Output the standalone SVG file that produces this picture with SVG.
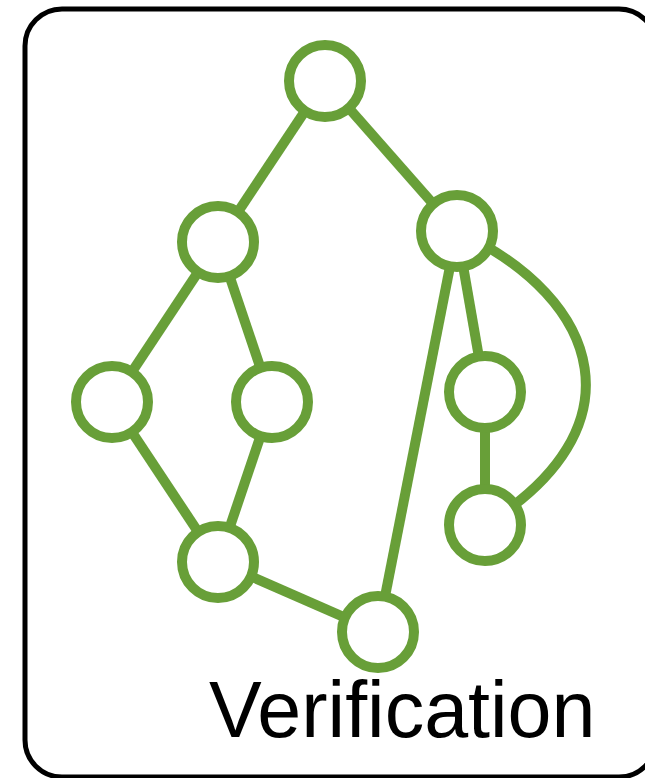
<svg xmlns="http://www.w3.org/2000/svg" width="645" height="778" viewBox="0 0 645 778">
  <style>
    .edge { fill: none; stroke: #689f38; stroke-width: 10; stroke-linecap: butt; }
    .node { fill: #ffffff; stroke: #689f38; stroke-width: 10; }
    .label { font-family: "Liberation Sans", Arial, sans-serif; font-size: 79px; fill: #000000; }
  </style>
  <rect width="645" height="778" fill="#ffffff"/>
  <!-- frame -->
  <rect x="25" y="9" width="631" height="768" rx="37" ry="37" fill="none" stroke="#000000" stroke-width="5"/>

  <!-- connectors -->
  <g id="edges">
    <line class="edge" x1="325" y1="81" x2="218" y2="242"/>
    <line class="edge" x1="325" y1="81" x2="457" y2="231"/>
    <line class="edge" x1="218" y1="242" x2="112" y2="402"/>
    <line class="edge" x1="218" y1="242" x2="272" y2="402"/>
    <line class="edge" x1="112" y1="402" x2="218" y2="562"/>
    <line class="edge" x1="272" y1="402" x2="218" y2="562"/>
    <line class="edge" x1="218" y1="562" x2="378" y2="632"/>
    <line class="edge" x1="457" y1="231" x2="378" y2="632"/>
    <line class="edge" x1="457" y1="231" x2="485" y2="392"/>
    <line class="edge" x1="485" y1="392" x2="485" y2="525"/>
    <path class="edge" d="M 457 231 C 605 300 640 430 485 525"/>
  </g>

  <!-- nodes -->
  <g id="n1"><circle class="node" cx="325" cy="81" r="36"/></g>
  <g id="n2"><circle class="node" cx="218" cy="242" r="36"/></g>
  <g id="n3"><circle class="node" cx="457" cy="231" r="36"/></g>
  <g id="n4"><circle class="node" cx="112" cy="402" r="36"/></g>
  <g id="n5"><circle class="node" cx="272" cy="402" r="36"/></g>
  <g id="n6"><circle class="node" cx="485" cy="392" r="36"/></g>
  <g id="n7"><circle class="node" cx="485" cy="525" r="36"/></g>
  <g id="n8"><circle class="node" cx="218" cy="562" r="36"/></g>
  <g id="n9"><circle class="node" cx="378" cy="632" r="36"/></g>

  <g id="title">
    <text class="label" x="209" y="737">Verification</text>
  </g>
</svg>
